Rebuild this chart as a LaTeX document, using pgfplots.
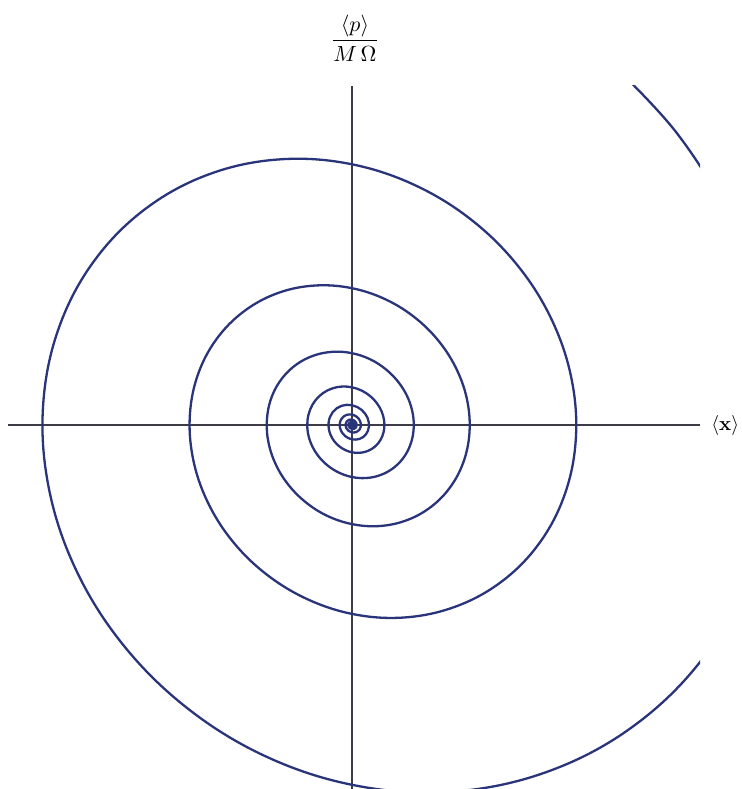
\documentclass[border=0pt]{standalone}
\usepackage{pgfplots}
\pgfplotsset{compat=1.18}
\definecolor{spiralblue}{RGB}{42,52,122}
\definecolor{axisgray}{RGB}{60,60,70}
\begin{document}
\begin{tikzpicture}
\begin{axis}[
  scale only axis,
  width=346pt, height=351.5pt,
  xmin=-344, xmax=348, ymin=-364, ymax=339,
  axis lines=middle,
  axis line style={-, draw=axisgray, line width=0.6pt},
  xtick=\empty, ytick=\empty,
  clip=true, clip mode=individual,
]
\addplot[spiralblue, line width=1.15pt, smooth, tension=0.62] coordinates {
 (236.6,383.5) (325.7,290.8) (388.3,183.4) (421.7,69.3)
 (425.0,-43.4) (399.6,-147.3) (348.8,-236.0) (277.3,-304.1) (190.9,-348.3) (96.2,-366.9)
 (0,-359.8) (-91.1,-329.1) (-171.4,-277.8) (-236.0,-210.7) (-281.4,-132.9) (-305.5,-50.2)
 (-307.9,31.5) (-289.5,106.8) (-252.7,170.9) (-200.9,220.3) (-138.3,252.4) (-69.7,265.8)
 (0,260.7) (66.0,238.4) (124.2,201.3) (171.0,152.6) (203.8,96.3) (221.3,36.4)
 (223.1,-22.8) (209.8,-77.3) (183.1,-123.8) (145.5,-159.6) (100.2,-182.8) (50.5,-192.6)
 (0,-188.9) (-47.8,-172.7) (-90.0,-145.8) (-123.9,-110.6) (-147.7,-69.7) (-160.3,-26.4)
 (-161.6,16.5) (-152.0,56.0) (-132.6,89.7) (-105.4,115.6) (-72.6,132.5) (-36.6,139.5)
 (0,136.8) (34.7,125.1) (65.2,105.6) (89.7,80.1) (107.0,50.5) (116.2,19.1)
 (117.1,-12.0) (110.1,-40.6) (96.1,-65.0) (76.4,-83.8) (52.6,-96.0) (26.5,-101.1)
 (0,-99.1) (-25.1,-90.7) (-47.2,-76.5) (-65.0,-58.0) (-77.5,-36.6) (-84.2,-13.8)
 (-84.8,8.7) (-79.8,29.4) (-69.6,47.1) (-55.3,60.7) (-38.1,69.5) (-19.2,73.2)
 (0,71.8) (18.2,65.7) (34.2,55.4) (47.1,42.0) (56.2,26.5) (61.0,10.0)
 (61.45,-6.27) (57.78,-21.30) (50.43,-34.12) (40.09,-43.97) (27.60,-50.36) (13.91,-53.04)
 (0,-52.03) (-13.17,-47.58) (-24.78,-40.17) (-34.12,-30.46) (-40.68,-19.21) (-44.17,-7.26)
 (-44.52,4.55) (-41.86,15.44) (-36.54,24.72) (-29.04,31.86) (-19.99,36.49) (-10.07,38.43)
 (0,37.69) (9.55,34.47) (17.96,29.10) (24.72,22.07) (29.47,13.92) (32.00,5.26)
 (32.25,-3.29) (30.32,-11.18) (26.47,-17.91) (21.04,-23.08) (14.48,-26.43) (7.30,-27.84)
 (0,-27.31) (-6.91,-24.97) (-13.01,-21.08) (-17.91,-15.99) (-21.35,-10.08) (-23.18,-3.81)
 (-23.37,2.39) (-21.97,8.10) (-19.18,12.97) (-15.24,16.72) (-10.49,19.15) (-5.29,20.17)
 (0,19.78) (5.01,18.09) (9.42,15.27) (12.97,11.58) (15.47,7.30) (16.80,2.76)
 (16.93,-1.73) (15.92,-5.87) (13.89,-9.40) (11.05,-12.12) (7.60,-13.88) (3.83,-14.61)
 (0,-14.33) (-3.63,-13.11) (-6.83,-11.07) (-9.40,-8.39) (-11.21,-5.29) (-12.17,-2.00)
 (-12.27,1.25) (-11.53,4.25) (-10.07,6.81) (-8.00,8.78) (-5.51,10.05) (-2.77,10.59)
 (0,10.38) (2.63,9.50) (4.95,8.02) (6.81,6.08) (8.12,3.83) (8.82,1.45)
 (8.89,-0.91) (7.29,-4.93) (3.99,-7.28) (0,-7.52) (-3.58,-5.81) (-5.88,-2.78)
 (-6.44,0.66) (-5.28,3.57) (-2.89,5.28) (0,5.45) (2.60,4.21) (4.26,2.01)
 (4.66,-0.48) (3.83,-2.59) (2.09,-3.82) (0,-3.95) (-1.88,-3.05) (-3.09,-1.46)
 (-3.38,0.35) (-2.77,1.88) (-1.52,2.77) (0,2.86) (1.36,2.21) (2.24,1.06)
 (2.45,-0.25) (1.10,-2.01) (-0.99,-1.60) (-1.77,0.18) (-0.80,1.45) (0.72,1.16) (1.28,-0.13) (0,0)
};
\addplot[only marks, mark=*, mark size=1.7pt, spiralblue] coordinates {(0,0)};
\node[anchor=center, font=\fontsize{10.5}{12}\selectfont] at (axis cs:3,387) {$\displaystyle\frac{\langle p\rangle}{M\,\Omega}$};
\node[anchor=west, inner sep=0pt, font=\fontsize{10}{12}\selectfont] at (axis cs:359,0) {$\langle\mathbf{x}\rangle$};
\coordinate (tl) at (axis cs:-352,425);
\coordinate (br) at (axis cs:390,-364);
\end{axis}
\pgfresetboundingbox
\path[use as bounding box] (tl) rectangle (br);
\end{tikzpicture}
\end{document}
